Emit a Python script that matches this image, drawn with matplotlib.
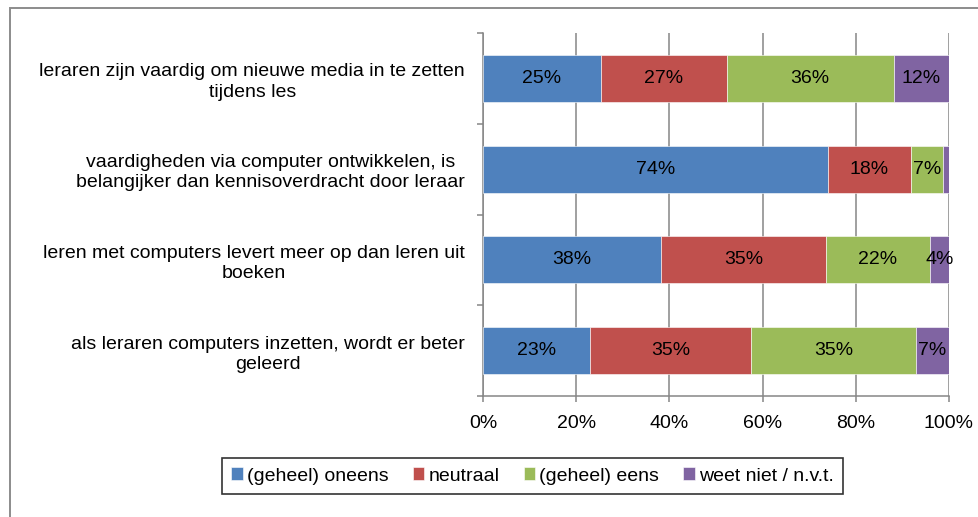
import numpy as np
import matplotlib
matplotlib.use("Agg")
import matplotlib.pyplot as plt
from matplotlib.patches import Rectangle

plt.rcParams["font.family"] = ["Liberation Sans", "DejaVu Sans"]

# ------------------------------------------------------------------ #
#  Data (top to bottom)
# ------------------------------------------------------------------ #
statements = [
    "leraren zijn vaardig om nieuwe media in te zetten\ntijdens les",
    "vaardigheden via computer ontwikkelen, is\nbelangijker dan kennisoverdracht door leraar",
    "leren met computers levert meer op dan leren uit\nboeken",
    "als leraren computers inzetten, wordt er beter\ngeleerd",
]
series_names = ["(geheel) oneens", "neutraal", "(geheel) eens", "weet niet / n.v.t."]
oneens = [25.3, 74.0, 38.2, 23.0]
neutraal = [27.0, 17.8, 35.4, 34.6]
eens = [35.8, 6.9, 22.3, 35.3]
weet_niet = [11.9, 1.3, 4.1, 7.1]
colors = ["#4F81BD", "#C0504D", "#9BBB59", "#8064A2"]
x_ticks = [0, 20, 40, 60, 80, 100]

GRAY = "#868686"
FS = 14

fig = plt.figure(figsize=(9.79, 5.17), dpi=100)
ax = fig.add_axes([483 / 979, 1 - 396 / 517, 466 / 979, 363 / 517])

ypos = np.arange(len(statements))
left = np.zeros(len(statements))
for name, vals, col in zip(series_names, [oneens, neutraal, eens, weet_niet], colors):
    vals = np.array(vals)
    ax.barh(ypos, vals, left=left, height=0.52, color=col, label=name,
            edgecolor="white", linewidth=0.4, zorder=3)
    for y, l, v in zip(ypos, left, vals):
        if v >= 2:
            ax.text(l + v / 2, y, f"{v:.0f}%", ha="center", va="center",
                    fontsize=FS, color="black", zorder=4)
    left += vals

ax.set_xlim(0, 100)
ax.set_ylim(len(statements) - 0.5, -0.5)

ax.set_xticks(x_ticks)
ax.set_xticklabels([f"{t}%" for t in x_ticks], fontsize=FS)
ax.set_yticks(ypos)
ax.set_yticklabels(statements, fontsize=FS, multialignment="center", linespacing=1.25)
ax.set_yticks(np.arange(-0.5, len(statements) + 0.5, 1), minor=True)

ax.tick_params(axis="y", which="major", length=0, pad=13)
ax.tick_params(axis="y", which="minor", length=4, color=GRAY, width=1.1)
ax.tick_params(axis="x", length=4, color=GRAY, width=1.1, pad=10)

ax.grid(True, axis="x", color=GRAY, linewidth=1.1, zorder=0)
ax.set_axisbelow(True)
for side in ["top", "right"]:
    ax.spines[side].set_visible(False)
for side in ["left", "bottom"]:
    ax.spines[side].set_color(GRAY)
    ax.spines[side].set_linewidth(1.1)

leg = fig.legend(loc="center", bbox_to_anchor=(532.5 / 979, 1 - 476 / 517),
                 ncol=4, fontsize=FS, frameon=True, fancybox=False,
                 edgecolor="black", handlelength=0.6, handleheight=0.6,
                 handletextpad=0.2, columnspacing=1.25, borderpad=0.5)
leg.get_frame().set_linewidth(1.2)

# outer chart frame
fig.patches.append(Rectangle((9.5 / 979, -0.1), 1.2, 1 - 8 / 517 + 0.1,
                             transform=fig.transFigure, fill=False,
                             edgecolor="#8c8c8c", linewidth=1.4))

fig.savefig("out.png", dpi=100)
